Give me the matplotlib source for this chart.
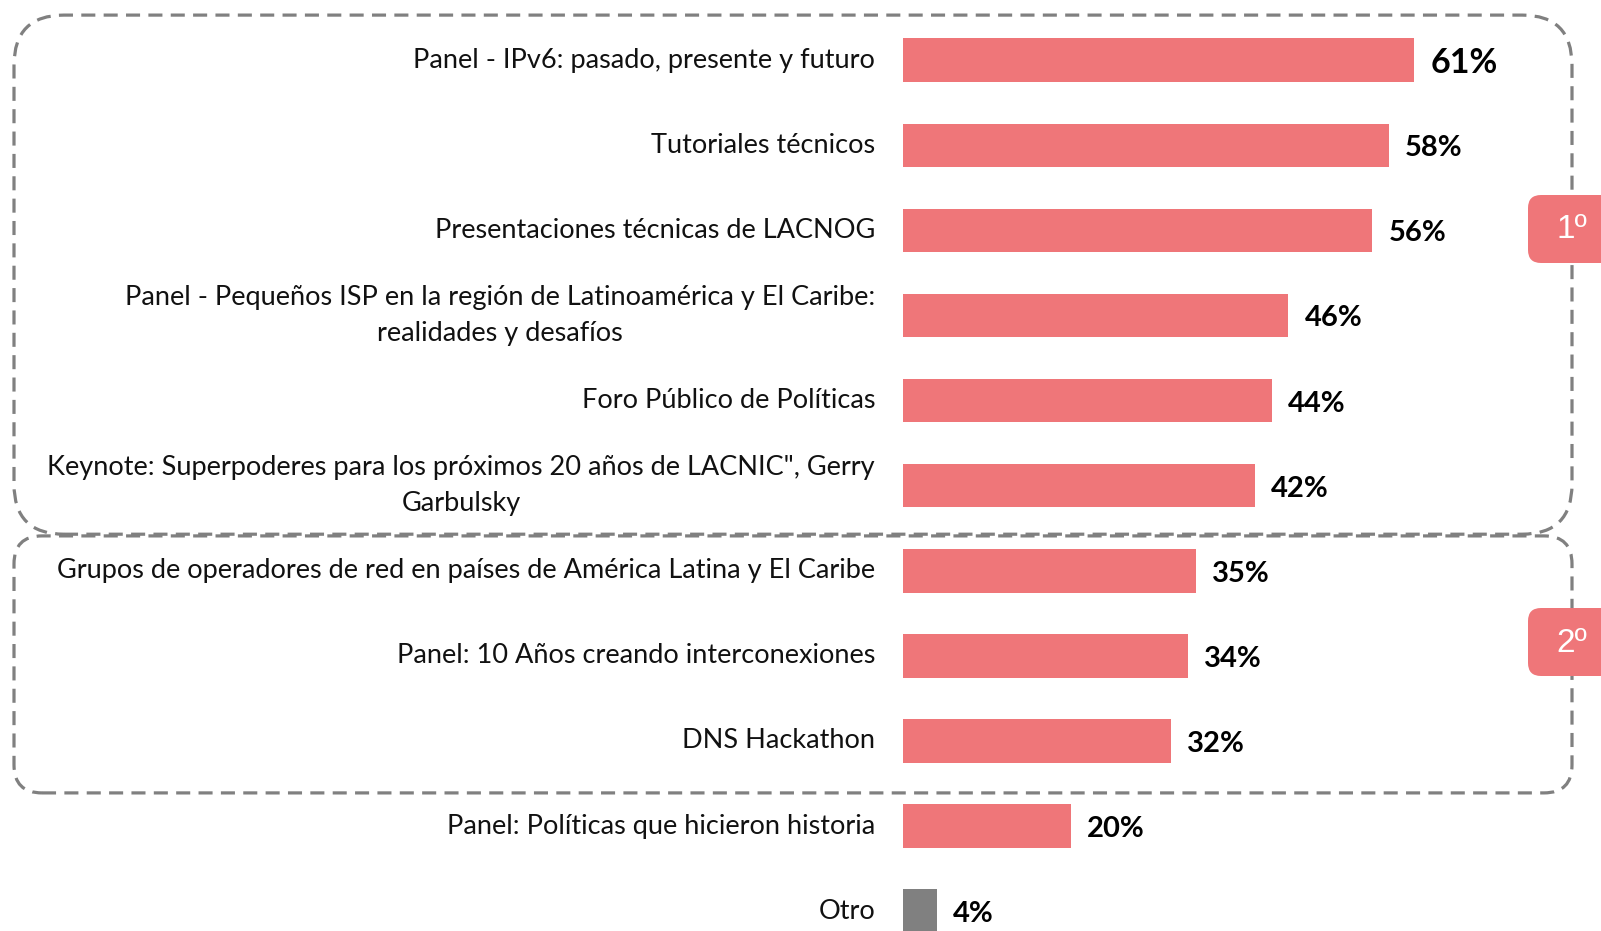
import matplotlib
matplotlib.use("Agg")
import matplotlib.pyplot as plt
from matplotlib.patches import FancyBboxPatch
from matplotlib.transforms import IdentityTransform
import numpy as np

categories = [
    "Panel - IPv6: pasado, presente y futuro",
    "Tutoriales técnicos",
    "Presentaciones técnicas de LACNOG",
    "Panel - Pequeños ISP en la región de Latinoamérica y El Caribe:\nrealidades y desafíos",
    "Foro Público de Políticas",
    "Keynote: Superpoderes para los próximos 20 años de LACNIC\", Gerry\nGarbulsky",
    "Grupos de operadores de red en países de América Latina y El Caribe",
    "Panel: 10 Años creando interconexiones",
    "DNS Hackathon",
    "Panel: Políticas que hicieron historia",
    "Otro",
]
values = [61, 58, 56, 46, 44, 42, 35, 34, 32, 20, 4]
value_labels = ["61%", "58%", "56%", "46%", "44%", "42%", "35%", "34%", "32%", "20%", "4%"]
groups = [("1º", 0, 5), ("2º", 6, 8)]

SALMON = "#EF7679"
GRAY = "#808080"
DASH = "#808080"

W, H, DPI = 1601, 931, 100
fig = plt.figure(figsize=(W / DPI, H / DPI), dpi=DPI)
ax = fig.add_axes([0, 0, 1, 1])
ax.axis("off")

# layout: bar origin at pixel 903, 8.38 px per percent; row i center at 60.2 + 85.1*i px
x0_px, px_per = 903.0, 8.38
y0_px, row_px = 60.2, 85.1
ax.set_xlim(-x0_px / px_per, (W - x0_px) / px_per)
ax.set_ylim((H - y0_px) / row_px, -y0_px / row_px)

pos = np.arange(len(categories))
colors = [SALMON] * (len(categories) - 1) + [GRAY]
ax.barh(pos, values, height=0.51, color=colors, zorder=3)

FONT = "Lato"
for i, (cat, v, lab) in enumerate(zip(categories, values, value_labels)):
    ax.annotate(cat, xy=(0, i), xytext=(-28, 0), textcoords="offset pixels",
                ha="right", va="center", multialignment="center",
                fontsize=19.5, family=FONT, color="#111111", linespacing=1.55)
    big = (i == 0)
    ax.annotate(lab, xy=(v, i), xytext=(16, -3), textcoords="offset pixels",
                ha="left", va="center", fontsize=24.5 if big else 21,
                fontweight="bold", family=FONT, color="black")

def to_img(x, y):
    return ax.transData.transform((x, y))

def round_box(xl, yt, xr, yb, r, **kw):
    # pixel coords (image space, y downward)
    p = FancyBboxPatch((xl, H - yb), xr - xl, yb - yt,
                       boxstyle=f"round,pad=0,rounding_size={r}",
                       transform=IdentityTransform(), **kw)
    fig.patches.append(p)
    return p

fig.canvas.draw()
box_specs = [(0.53, 0.57, 50), (0.41, 0.61, 28)]
for (name, a, b), (pt, pb, r) in zip(groups, box_specs):
    _, ytop = to_img(0, a - pt)
    _, ybot = to_img(0, b + pb)
    yt, yb = H - ytop, H - ybot
    round_box(14, yt, 1572, yb, r, fill=False, edgecolor=DASH, linewidth=2.3,
              linestyle=(0, (4.4, 2.6)), zorder=1)

badge_rows = [(groups[0][0], 229), (groups[1][0], 642)]
for txt, cy in badge_rows:
    round_box(1528, cy - 34, 1640, cy + 34, 13, facecolor=SALMON, edgecolor="none", zorder=5)
    fig.text(1572 / W, 1 - (cy + 1) / H, txt, ha="center", va="center",
             fontsize=24, color="white", family="Liberation Sans", zorder=6)

fig.savefig("out.png", dpi=DPI)
